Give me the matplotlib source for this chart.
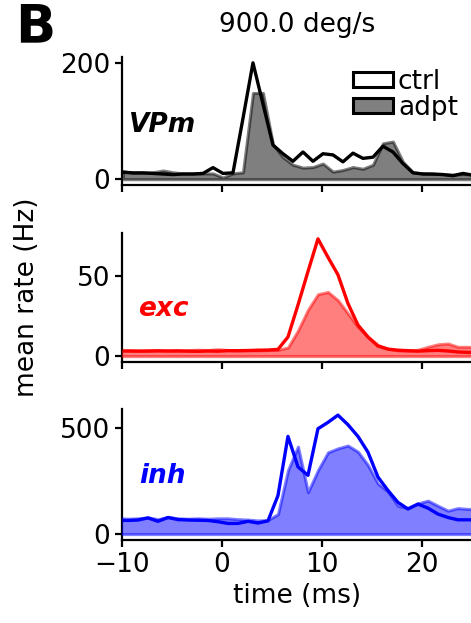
import numpy as np
import matplotlib.pyplot as plt
from matplotlib.patches import Patch

# time bins (ms)
T_VPM = np.arange(-10, 26) + 0.1
T_CTX = np.arange(-10.4, 26.0, 1.0)

VPM_CTRL = [12, 11, 11, 10, 9, 8, 9, 9, 10, 20, 10, 11, 105, 201, 130, 59, 44, 31,
            47, 31, 44, 42, 30, 45, 36, 38, 57, 47, 27, 11, 9, 9, 8, 6, 10, 7]
VPM_ADPT = [14, 11, 11, 12, 15, 12, 10, 10, 10, 10, 3, 10, 12, 149, 149, 60, 38, 25,
            20, 21, 27, 13, 16, 21, 18, 25, 62, 65, 30, 12, 10, 9, 9, 8, 9, 8]

EXC_CTRL = [3.2, 3.2, 3.1, 3.2, 3.3, 3.2, 3.3, 3.1, 3.0, 3.2, 3.1, 3.4, 3.4, 3.5,
            3.7, 3.8, 4.2, 12, 32, 53, 73.5, 62, 51, 33, 19.5, 12, 6.3, 4.4, 3.7,
            3.4, 3.1, 3.4, 3.6, 3.2, 2.6, 2.3, 2.3]
EXC_ADPT = [3.5, 3.6, 3.5, 3.4, 3.6, 3.5, 3.4, 3.7, 4.0, 3.8, 4.3, 3.8, 3.6, 3.7,
            3.6, 3.8, 3.9, 5.4, 16, 29, 38.8, 40.2, 35, 26.7, 18.3, 12, 7, 4.5, 3.6,
            3.4, 4.0, 5.8, 7.4, 7.9, 5.8, 5.8, 5.8]

INH_CTRL = [65, 64, 66, 76, 60, 78, 68, 66, 65, 64, 58, 50, 50, 60, 52, 62, 181, 459,
            316, 276, 495, 525, 559, 514, 459, 385, 268, 205, 149, 118, 141, 122, 94,
            78, 67, 67, 67]
INH_ADPT = [75, 72, 74, 78, 70, 80, 74, 72, 74, 72, 74, 74, 70, 68, 64, 66, 94, 300,
            411, 197, 300, 384, 403, 416, 387, 324, 237, 200, 133, 122, 144, 157, 133,
            110, 122, 118, 118]

PANELS = [
    ('VPm', 'k', T_VPM, VPM_CTRL, VPM_ADPT, [0, 200], 0.416),
    ('exc', 'r', T_CTX, EXC_CTRL, EXC_ADPT, [0, 50], 0.359),
    ('inh', 'b', T_CTX, INH_CTRL, INH_ADPT, [0, 500], 0.437),
]
XTICKS = [-10, 0, 10, 20]
FS = 19


def main():
    plt.rcParams['font.family'] = 'DejaVu Sans'
    plt.rcParams['font.size'] = FS
    fig = plt.figure(figsize=(4.71, 6.23), dpi=100)

    rects = [
        [0.259, 0.703, 0.743, 0.2055],
        [0.259, 0.419, 0.743, 0.207],
        [0.259, 0.1332, 0.743, 0.210],
    ]

    axes = []
    for rect, (name, color, t, ctrl, adpt, yticks, ylab) in zip(rects, PANELS):
        ax = fig.add_axes(rect)
        ax.plot(t, ctrl, color=color, lw=2.4, label='ctrl', zorder=2)
        ax.fill_between(t, 0, adpt, facecolor=color, edgecolor=color, alpha=0.5,
                        lw=2.2, label='adpt', zorder=3)
        ax.set_xlim(-10, 25)
        ax.set_xticks(XTICKS)
        ax.set_yticks(yticks)
        for side in ['top', 'right']:
            ax.spines[side].set_visible(False)
        for side in ['left', 'bottom']:
            ax.spines[side].set_linewidth(1.6)
        ax.tick_params(width=1.6, length=5, labelsize=FS)
        ax.text(0.117, ylab, name, transform=ax.transAxes, color=color,
                fontsize=19, fontweight='bold', fontstyle='italic',
                ha='center', va='baseline')
        axes.append(ax)

    for ax in axes[:-1]:
        ax.tick_params(labelbottom=False)

    # legend with patch handles (white ctrl, grey adpt)
    handles = [Patch(facecolor='white', edgecolor='k', lw=2.2),
               Patch(facecolor='0.5', edgecolor='k', lw=2.2)]
    axes[0].legend(handles, ['ctrl', 'adpt'], loc='upper right', frameon=False,
                   bbox_to_anchor=(0.96, 0.91), borderpad=0, borderaxespad=0,
                   handlelength=1.5, handleheight=0.5, handletextpad=0.2,
                   labelspacing=0.0, fontsize=FS)

    axes[-1].set_xlabel('time (ms)', fontsize=FS)
    fig.text(0.057, 0.523, 'mean rate (Hz)', rotation=90, ha='center', va='center',
             fontsize=FS)
    fig.text(0.63, 1 - 32 / 623, '900.0 deg/s', ha='center', va='baseline', fontsize=FS)
    fig.text(0.032, 1 - 42 / 623, 'B', ha='left', va='baseline', fontsize=38,
             fontweight='bold')

    fig.savefig('out.png', dpi=100)


if __name__ == '__main__':
    main()
